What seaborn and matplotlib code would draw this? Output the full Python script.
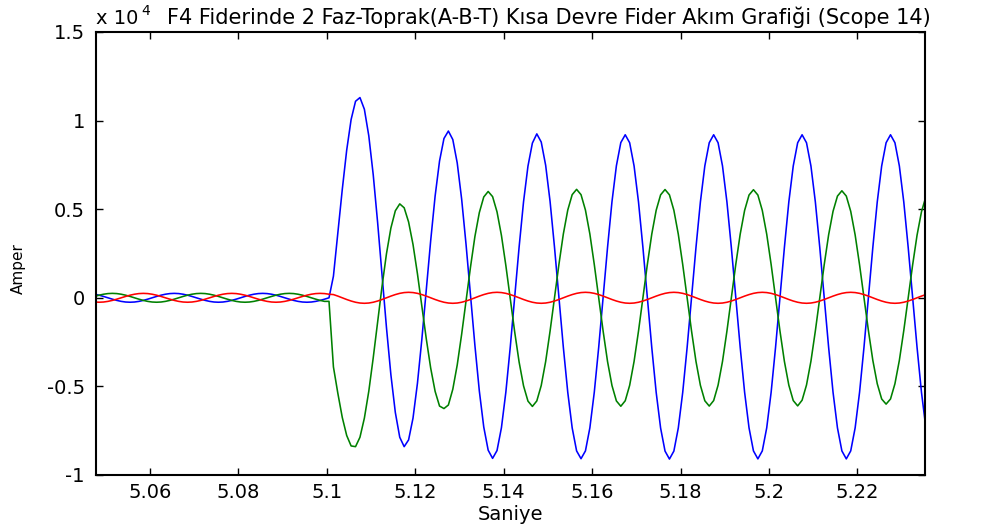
import numpy as np
import pandas as pd
import matplotlib
matplotlib.use("Agg")
import matplotlib.pyplot as plt
import seaborn as sns
from matplotlib.ticker import FixedLocator, FixedFormatter

# ---- data (amperes), sampled every 1 ms starting at t_start ----
t_start = 5.0475
t_step = 0.001

phase_a = [  # blue
    202, 147, 77, 0, -77, -147, -202, -238, -250, -238, -202, -147, -77, 0, 77, 147, 202, 238,
    250, 238, 202, 147, 77, 0, -77, -147, -202, -238, -250, -238, -202, -147, -77, 0, 77, 147, 202, 238,
    250, 238, 202, 147, 77, 0, -77, -147, -202, -238, -250, -238, -202, -147, -77,
    0, 1220, 3650, 6110, 8330, 10060, 11090, 11300, 10640, 9140, 6950, 4240, 1270, -1690, -4350,
    -6470, -7870, -8400, -8020, -6790, -4830, -2340, 440, 3230, 5740, 7720, 8990, 9410, 8930, 7610,
    5570, 3000, 150, -2690, -5260, -7290, -8600, -9060, -8620, -7330, -5320, -2770, 50, 2870, 5420,
    7430, 8730,
    9250, 8790, 7480, 5440, 2860, 50, -2790, -5330, -7340, -8640, -9080, -8640, -7340, -5330, -2790, 50, 2850, 5420, 7450, 8760,
    9200, 8750, 7440, 5410, 2840, 50, -2800, -5340, -7350, -8650, -9100, -8650, -7350, -5340, -2800, 50, 2840, 5410, 7440, 8750,
    9200, 8750, 7440, 5410, 2840, 50, -2790, -5330, -7340, -8640, -9090, -8640, -7340, -5330, -2790, 50, 2840, 5410, 7440, 8750,
    9200, 8750, 7440, 5410, 2840, 50, -2790, -5330, -7340, -8640, -9090, -8640, -7340, -5330, -2790, 50, 2840, 5410, 7440, 8750,
    9200, 8750, 7440, 5410, 2840, 50, -2790, -5330, -7340,
]

phase_b = [  # green
    77, 147, 202, 238,
    250, 238, 202, 147, 77, 0, -77, -147, -202, -238, -250, -238, -202, -147, -77, 0, 77, 147, 202, 238,
    250, 238, 202, 147, 77, 0, -77, -147, -202, -238, -250, -238, -202, -147, -77, 0, 77, 147, 202, 238,
    250, 238, 202, 147, 77, 0, -77, -147, -202,
    -200, -3900, -5390, -6750, -7770, -8360, -8400, -7870, -6790, -5270, -3390, -1360, 660, 2490,
    3940, 4910, 5300, 5080, 4280, 3010, 1360, -470, -2310, -3970, -5280, -6110, -6250, -6050,
    -5160, -3790, -2060, -160, 1730, 3460, 4810, 5690, 6000, 5710, 4850, 3520, 1820, -60,
    -1930, -3630, -4970, -5830, -6130,
    -5820, -4950, -3600, -1880, 0, 1880, 3600, 4950, 5820, 6120, 5820, 4950, 3600, 1880, 0, -1880, -3600, -4950, -5820, -6120,
    -5810, -4940, -3590, -1880, 0, 1880, 3590, 4940, 5810, 6110, 5810, 4940, 3590, 1880, 0, -1880, -3590, -4940, -5810, -6110,
    -5800, -4930, -3590, -1880, 0, 1880, 3590, 4930, 5800, 6100, 5800, 4930, 3590, 1880, 0, -1880, -3590, -4930, -5800, -6100,
    -5780, -4920, -3580, -1870, 0, 1860, 3550, 4880, 5740, 6040, 5740, 4880, 3550, 1860, 0, -1850, -3530, -4850, -5710, -6000,
    -5710, -4850, -3530, -1850, 0, 1850, 3530, 4850, 5710,
]

phase_c = [  # red
    -238, -250, -238, -202, -147, -77, 0, 77, 147, 202, 238,
    250, 238, 202, 147, 77, 0, -77, -147, -202, -238, -250, -238, -202, -147, -77, 0, 77, 147, 202, 238,
    250, 238, 202, 147, 77, 0, -77, -147, -202, -238, -250, -238, -202, -147, -77, 0, 77, 147, 202, 238,
    250, 238, 202,
    182, 96, 0, -96, -182, -251, -295, -310, -295, -251, -182, -96, 0, 96, 182, 251, 295,
    310, 295, 251, 182, 96, 0, -96, -182, -251, -295, -310, -295, -251, -182, -96, 0, 96, 182, 251, 295,
    310, 295, 251, 182, 96, 0, -96, -182, -251, -295, -310, -295, -251, -182, -96, 0, 96, 182, 251, 295,
    310, 295, 251, 182, 96, 0, -96, -182, -251, -295, -310, -295, -251, -182, -96, 0, 96, 182, 251, 295,
    310, 295, 251, 182, 96, 0, -96, -182, -251, -295, -310, -295, -251, -182, -96, 0, 96, 182, 251, 295,
    310, 295, 251, 182, 96, 0, -96, -182, -251, -295, -310, -295, -251, -182, -96, 0, 96, 182, 251, 295,
    310, 295, 251, 182, 96, 0, -96, -182, -251, -295, -310, -295, -251, -182, -96, 0, 96, 182,
]

phase_names = ["A", "B", "C"]
phase_colors = {"A": "#0000ff", "B": "#008000", "C": "#ff0000"}

x_ticks = [5.06, 5.08, 5.10, 5.12, 5.14, 5.16, 5.18, 5.20, 5.22]
x_tick_labels = ["5.06", "5.08", "5.1", "5.12", "5.14", "5.16", "5.18", "5.2", "5.22"]
y_ticks = [-10000, -5000, 0, 5000, 10000, 15000]
y_tick_labels = ["-1", "-0.5", "0", "0.5", "1", "1.5"]

title = "F4 Fiderinde 2 Faz-Toprak(A-B-T) Kısa Devre Fider Akım Grafiği (Scope 14)"

# ---- build long-form table ----
n = len(phase_a)
time = t_start + t_step * np.arange(n)
df = pd.DataFrame({
    "Saniye": np.concatenate([time, time, time]),
    "Amper": np.array(phase_a + phase_b + phase_c, dtype=float),
    "Faz": ["A"] * n + ["B"] * n + ["C"] * n,
})

sns.set_theme(style="white")
plt.rcParams["font.family"] = ["DejaVu Sans"]
plt.rcParams["text.color"] = "black"
plt.rcParams["axes.labelcolor"] = "black"

fig = plt.figure(figsize=(10.02, 5.29), dpi=100)
ax = fig.add_axes([96 / 1002, 1 - 475 / 529, (925 - 96) / 1002, (475 - 32) / 529])

sns.lineplot(data=df, x="Saniye", y="Amper", hue="Faz", hue_order=phase_names,
             palette=phase_colors, estimator=None, legend=False, linewidth=1.15, ax=ax)

ax.set_xlim(5.0478, 5.2353)
ax.set_ylim(-10000, 15000)
ax.xaxis.set_major_locator(FixedLocator(x_ticks))
ax.xaxis.set_major_formatter(FixedFormatter(x_tick_labels))
ax.yaxis.set_major_locator(FixedLocator(y_ticks))
ax.yaxis.set_major_formatter(FixedFormatter(y_tick_labels))

for s in ax.spines.values():
    s.set_visible(True)
    s.set_color("black")
    s.set_linewidth(1.5)

ax.tick_params(axis="both", which="major", direction="in", length=5, width=1,
               top=True, right=True, bottom=True, left=True, colors="black",
               labelsize=14)
ax.tick_params(axis="x", pad=6)
ax.tick_params(axis="y", pad=8)

ax.set_xlabel("Saniye", fontsize=14, color="black")
ax.xaxis.set_label_coords(0.5, -0.068)
ax.xaxis.label.set_va("top")
ax.set_ylabel("Amper", fontsize=11, color="black")
ax.yaxis.set_label_coords(-0.0844, 0.467)

fig.text(96 / 1002, 1 - 24 / 529, "x 10", fontsize=14, ha="left", va="baseline", color="black")
fig.text(141 / 1002, 1 - 15 / 529, "4", fontsize=10, ha="left", va="baseline", color="black")
fig.text(167 / 1002, 1 - 24 / 529, title, fontsize=15, ha="left", va="baseline", color="black")

fig.savefig("out.png", dpi=100)
